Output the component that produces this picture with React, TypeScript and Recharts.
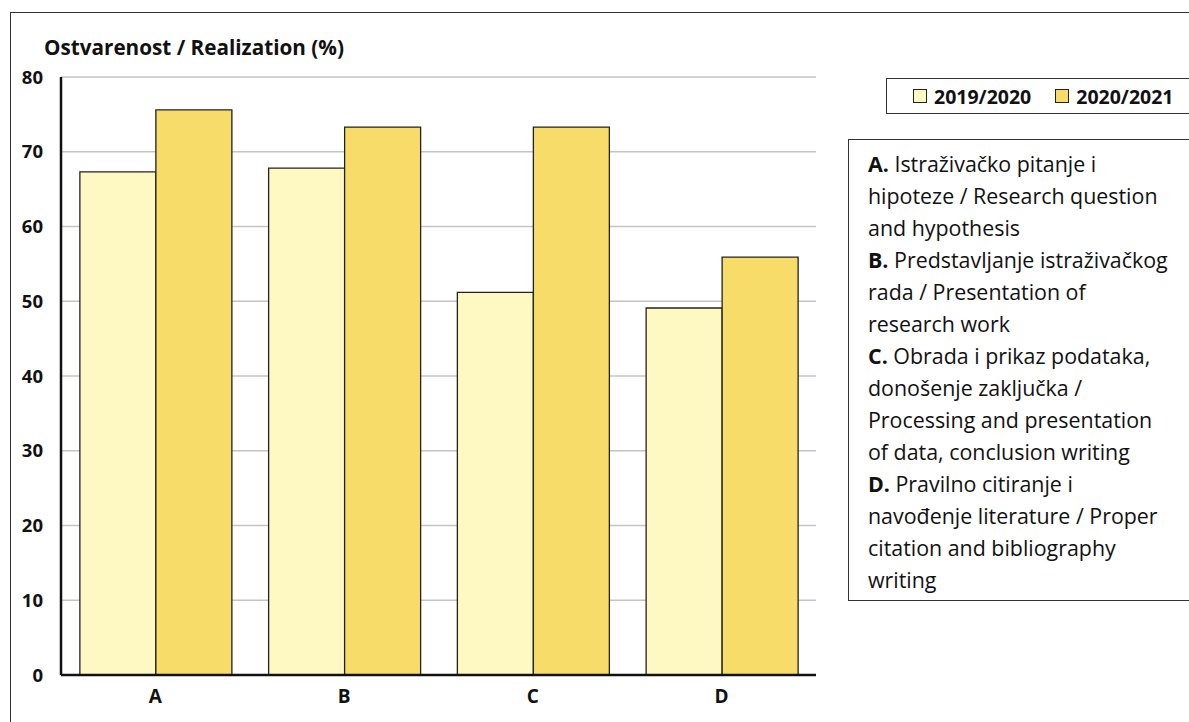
import { Bar, BarChart, CartesianGrid, Legend, XAxis, YAxis } from "recharts";

const categories = ["A", "B", "C", "D"];
const values2019 = [67.3, 67.8, 51.2, 49.1];
const values2020 = [75.6, 73.3, 73.3, 55.9];
const yTicks = [0, 10, 20, 30, 40, 50, 60, 70, 80];
const seriesNames = ["2019/2020", "2020/2021"];
const seriesColors = ["#fef8c3", "#f8dc6a"];

const descriptionLines: { bold?: string; text: string }[] = [
  { bold: "A.", text: " Istraživačko pitanje i" },
  { text: "hipoteze / Research question" },
  { text: "and hypothesis" },
  { bold: "B.", text: " Predstavljanje istraživačkog" },
  { text: "rada / Presentation of" },
  { text: "research work" },
  { bold: "C.", text: " Obrada i prikaz podataka," },
  { text: "donošenje zaključka /" },
  { text: "Processing and presentation" },
  { text: "of data, conclusion writing" },
  { bold: "D.", text: " Pravilno citiranje i" },
  { text: "navođenje literature / Proper" },
  { text: "citation and bibliography" },
  { text: "writing" },
];

const FONT = "'Open Sans', Lato, sans-serif";

type LegendEntry = { value?: string; color?: string };

function LegendBox({ payload }: { payload?: LegendEntry[] }) {
  return (
    <div
      style={{
        display: "flex",
        alignItems: "center",
        height: 36,
        border: "1.3px solid #333",
        boxSizing: "border-box",
        paddingLeft: 26,
        fontFamily: FONT,
        fontWeight: 700,
        fontSize: 19.5,
        color: "#111",
        background: "#fff",
      }}
    >
      {(payload ?? []).map((p) => (
        <div key={p.value} style={{ display: "flex", alignItems: "center", marginRight: 24 }}>
          <span
            style={{
              display: "inline-block",
              width: 14,
              height: 14,
              background: p.color,
              border: "1.3px solid #222",
              boxSizing: "border-box",
              marginRight: 7,
            }}
          />
          <span>{p.value}</span>
        </div>
      ))}
    </div>
  );
}

export default function App() {
  const data = categories.map((c, i) => ({
    name: c,
    y2019: values2019[i],
    y2020: values2020[i],
  }));

  return (
    <div
      style={{
        position: "absolute",
        left: 0,
        top: 0,
        width: 1189,
        height: 722,
        overflow: "hidden",
        background: "#fff",
        fontFamily: FONT,
      }}
    >
      <div
        style={{
          position: "absolute",
          left: 10,
          top: 12,
          width: 1300,
          height: 800,
          borderLeft: "1.3px solid #333",
          borderTop: "1.3px solid #333",
        }}
      />
      <div
        style={{
          position: "absolute",
          left: 44,
          top: 37,
          fontSize: 20.7,
          lineHeight: "21px",
          fontWeight: 700,
          color: "#111",
          whiteSpace: "nowrap",
        }}
      >
        Ostvarenost / Realization (%)
      </div>

      <BarChart
        width={1189}
        height={722}
        data={data}
        margin={{ top: 77, right: 373, bottom: 17, left: 21 }}
        barCategoryGap="10%"
        barGap={0}
        style={{ position: "absolute", left: 0, top: 0 }}
      >
        <CartesianGrid vertical={false} stroke="#c4c4c4" strokeWidth={1.3} />
        <XAxis
          dataKey="name"
          height={30}
          tickLine={false}
          tickSize={0}
          tickMargin={15}
          axisLine={{ stroke: "#111", strokeWidth: 2.5 }}
          tick={{ fill: "#111", fontSize: 19, fontWeight: 700, fontFamily: FONT }}
        />
        <YAxis
          width={40}
          domain={[0, 80]}
          ticks={yTicks}
          interval={0}
          tickLine={false}
          tickSize={0}
          tickMargin={18}
          axisLine={{ stroke: "#111", strokeWidth: 2.5 }}
          tick={{ fill: "#111", fontSize: 18.5, fontWeight: 700, fontFamily: FONT }}
        />
        <Legend
          layout="vertical"
          align="center"
          verticalAlign="middle"
          wrapperStyle={{ position: "absolute", left: 886, top: 78, width: 400, height: 36 }}
          content={(props: { payload?: LegendEntry[] }) => <LegendBox payload={props.payload} />}
        />
        <Bar
          dataKey="y2019"
          name={seriesNames[0]}
          fill={seriesColors[0]}
          stroke="#222"
          strokeWidth={1.3}
          isAnimationActive={false}
        />
        <Bar
          dataKey="y2020"
          name={seriesNames[1]}
          fill={seriesColors[1]}
          stroke="#222"
          strokeWidth={1.3}
          isAnimationActive={false}
        />
      </BarChart>

      <div
        style={{
          position: "absolute",
          left: 848,
          top: 139,
          width: 400,
          height: 462,
          boxSizing: "border-box",
          border: "1.3px solid #333",
          padding: "8px 0 0 19px",
          fontSize: 21.4,
          lineHeight: "32px",
          color: "#111",
          whiteSpace: "nowrap",
        }}
      >
        {descriptionLines.map((l, i) => (
          <div key={i}>
            {l.bold ? <b>{l.bold}</b> : null}
            {l.text}
          </div>
        ))}
      </div>
    </div>
  );
}
